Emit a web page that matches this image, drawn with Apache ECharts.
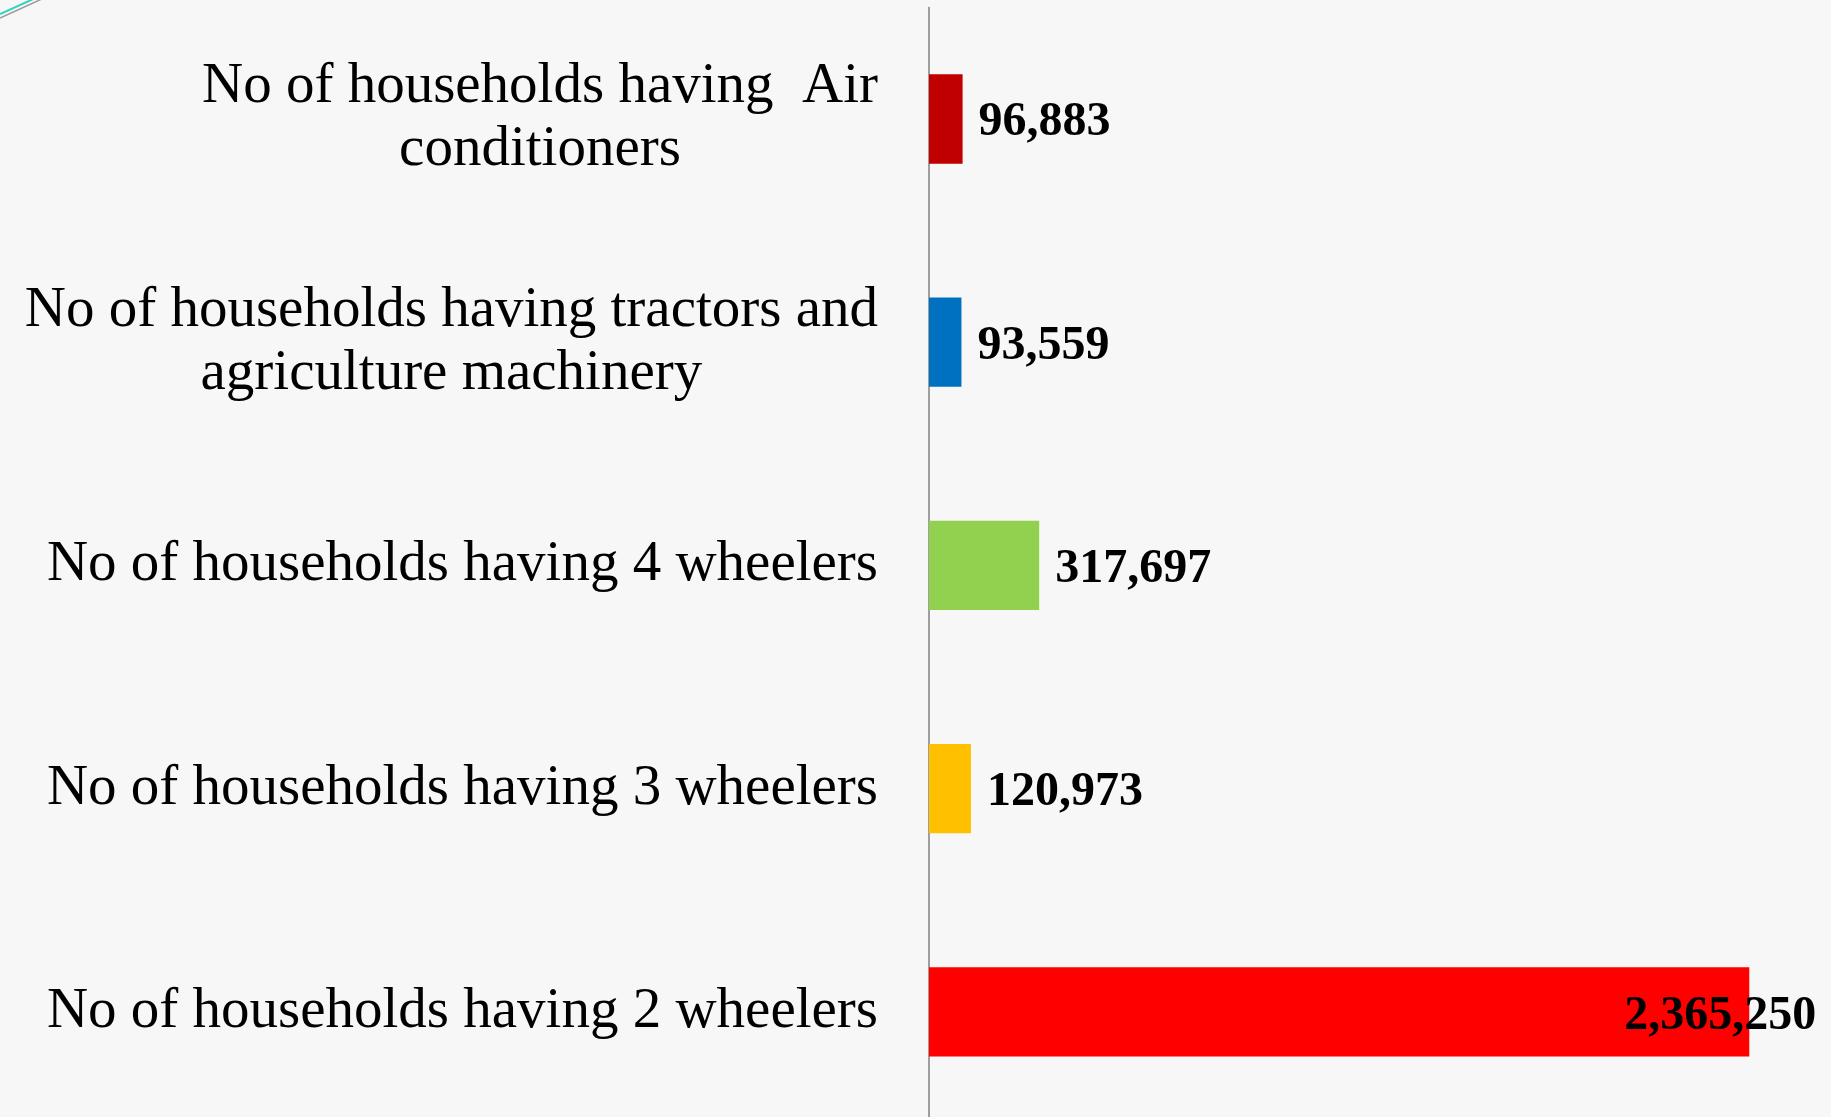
<!DOCTYPE html>
<html><head><meta charset="utf-8">
<script src="https://cdn.jsdelivr.net/npm/echarts@6/dist/echarts.min.js"></script>
<style>html,body{margin:0;padding:0;background:#f7f7f7}#c{width:1831px;height:1117px}</style>
</head><body><div id="c"></div>
<script>
const categories = [
  'No of households having  Air\nconditioners',
  'No of households having tractors and\nagriculture machinery',
  'No of households having 4 wheelers',
  'No of households having 3 wheelers',
  'No of households having 2 wheelers'
];
const values = [96883, 93559, 317697, 120973, 2365250];
const colors = ['#C00000', '#0070C0', '#92D050', '#FFC000', '#FF0000'];

const chart = echarts.init(document.getElementById('c'));
chart.setOption({
  backgroundColor: '#f7f7f7',
  animation: false,
  graphic: [
    {type: 'line', shape: {x1: 0, y1: 14, x2: 40, y2: -4}, style: {stroke: '#2fd3c0', lineWidth: 2}},
    {type: 'line', shape: {x1: 0, y1: 18, x2: 44, y2: -2}, style: {stroke: '#9a9a9a', lineWidth: 1.5}}
  ],
  grid: {left: 929, width: 867, top: 7.4, height: 1116, containLabel: false, outerBoundsMode: 'none'},
  xAxis: {type: 'value', min: 0, max: 2500000, show: false},
  yAxis: {
    type: 'category', inverse: true, data: categories,
    axisLine: {show: true, lineStyle: {color: '#808080', width: 1.5}},
    axisTick: {show: false},
    axisLabel: {
      margin: 51, align: 'right',
      fontFamily: 'Liberation Serif', fontSize: 57, color: '#000', lineHeight: 63,
      formatter: function (v) { return v.split('\n').map(s => '{a|' + s + '}').join('\n'); },
      rich: {a: {align: 'center', fontFamily: 'Liberation Serif', fontSize: 57, lineHeight: 63, color: '#000'}}
    }
  },
  series: [{
    type: 'bar', barCategoryGap: '60%',
    data: values.map((v, i) => {
      const d = {value: v, itemStyle: {color: colors[i]}};
      if (i === 4) d.label = {offset: [-141, 5]};
      return d;
    }),
    label: {
      show: true, position: 'right', distance: 16, offset: [0, 4],
      fontFamily: 'Liberation Serif', fontWeight: 'bold', fontSize: 48, color: '#000',
      formatter: p => p.value.toLocaleString('en-US')
    }
  }]
});
</script></body></html>
